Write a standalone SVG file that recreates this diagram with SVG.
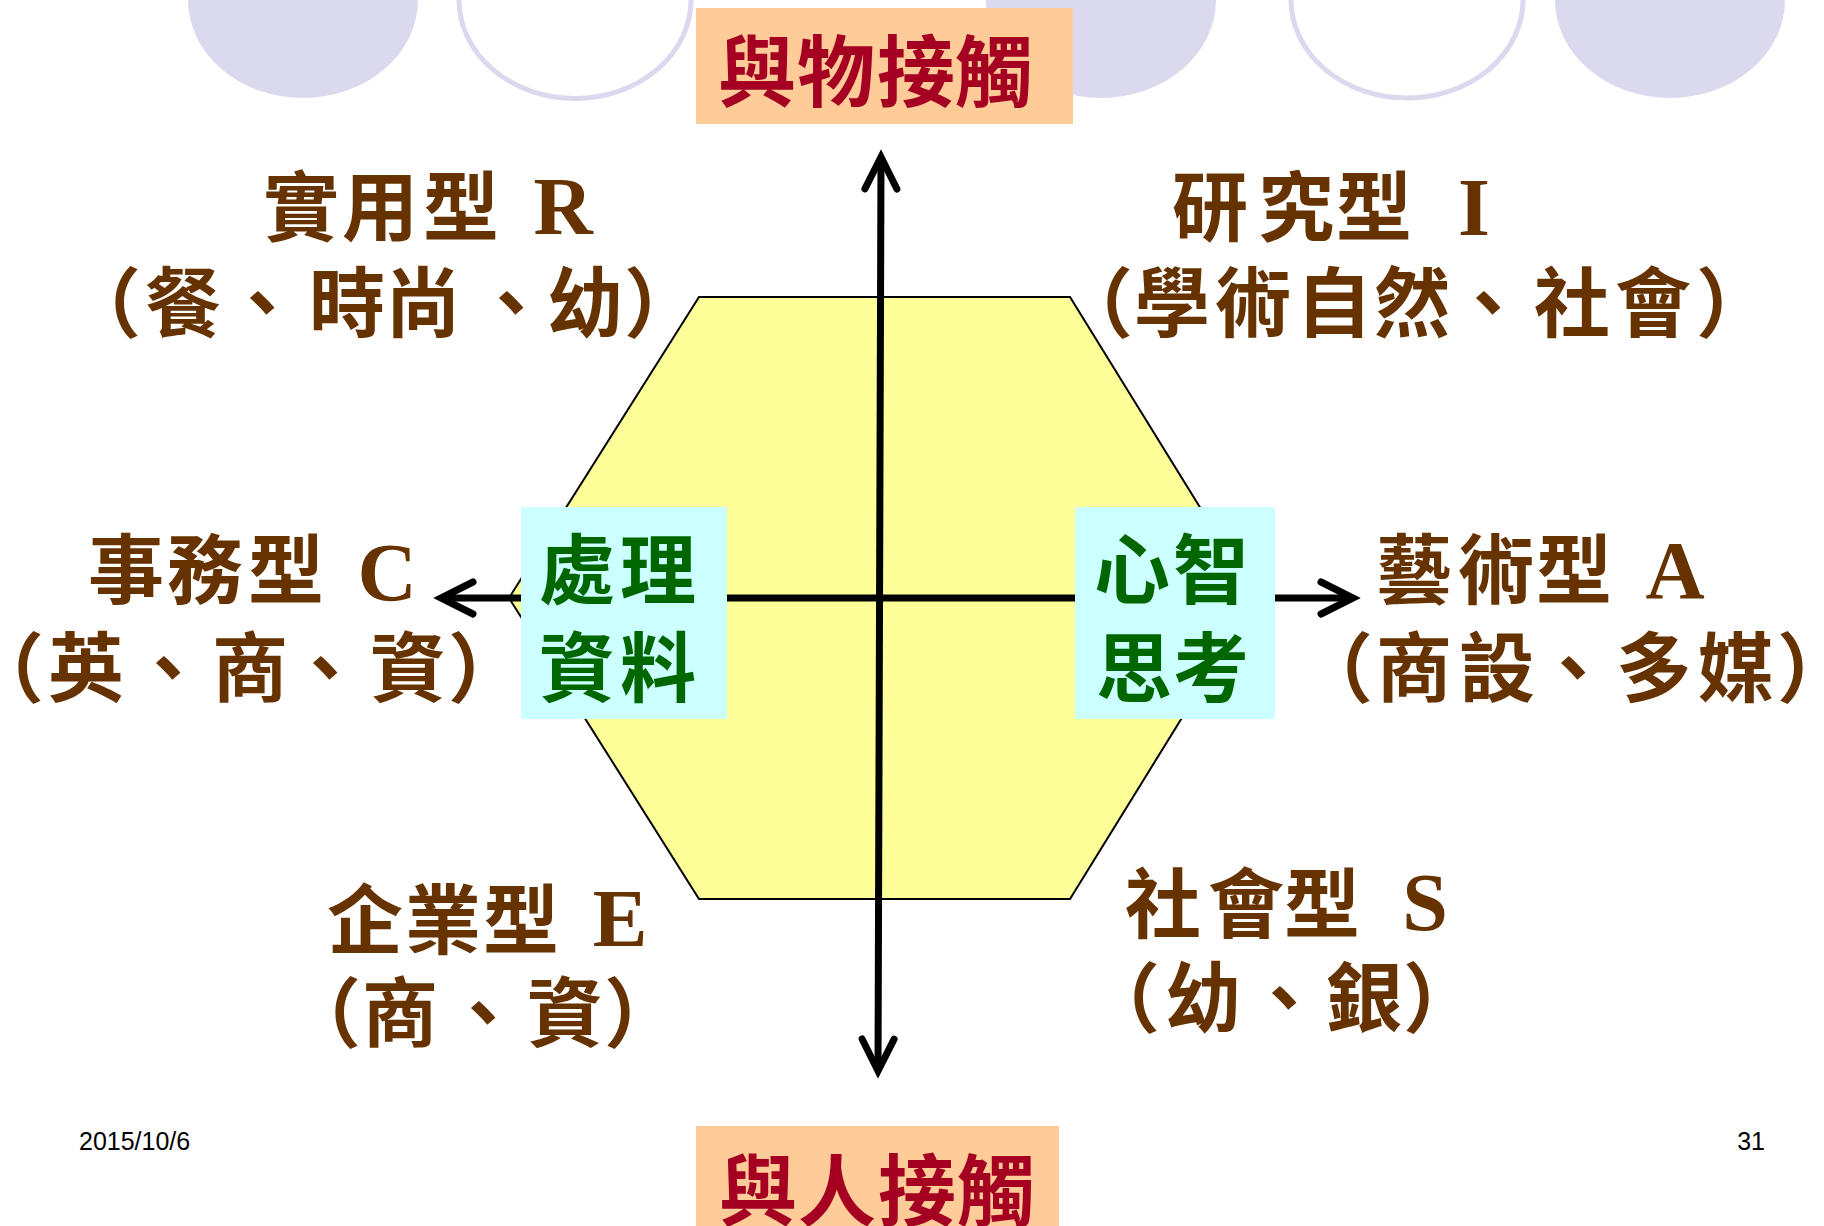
<svg xmlns="http://www.w3.org/2000/svg" width="1824" height="1226" viewBox="0 0 1824 1226">
<defs>
<style>
.bg{fill:#DBD9EE}
.ring{fill:none;stroke:#DBD9EE;stroke-width:5}
.tag{fill:#FFCC99}
.think{fill:#CCFFFF}
.hex{fill:#FFFF99;stroke:#000;stroke-width:2}
.axis{fill:none;stroke:#000;stroke-width:7}
.red{font-family:"Noto Sans CJK TC","Noto Sans CJK SC",sans-serif;font-size:78px;font-weight:700;fill:#A50021;text-anchor:middle}
.grn{font-family:"Noto Sans CJK TC","Noto Sans CJK SC",sans-serif;font-size:76px;font-weight:700;fill:#006600;text-anchor:middle}
.lab{font-family:"Noto Sans CJK TC","Noto Sans CJK SC",sans-serif;font-size:76px;font-weight:700;fill:#663300;text-anchor:middle}
.lat{font-family:"Liberation Serif",serif;font-size:82px;font-weight:700}
.foot{font-family:"Liberation Sans",Arial,sans-serif;font-size:25px;fill:#000}
</style>
<marker id="head" markerUnits="userSpaceOnUse" viewBox="-40 -30 50 60" refX="0" refY="0" markerWidth="50" markerHeight="60" orient="auto-start-reverse" overflow="visible">
<path d="M -32 -16 L 0 0 L -32 16" fill="none" stroke="#000" stroke-width="7" stroke-linecap="round" stroke-linejoin="miter"/>
</marker>
</defs>
<rect width="1824" height="1226" fill="#fff"/>
<g id="decor">
<ellipse class="bg" cx="303" cy="0" rx="115" ry="98"/>
<ellipse class="ring" cx="575" cy="0" rx="116" ry="98.5"/>
<ellipse class="bg" cx="1101" cy="0" rx="115" ry="98"/>
<ellipse class="ring" cx="1407" cy="0" rx="116" ry="98"/>
<ellipse class="bg" cx="1670" cy="0" rx="115" ry="98"/>
</g>
<g id="hexagon">
<polygon class="hex" points="699,297 1070,297 1256,598 1070,899 699,899 509,598"/>
</g>
<g id="connectors">
<path class="axis" d="M 881 157 L 878 1071" marker-start="url(#head)" marker-end="url(#head)"/>
<path class="axis" d="M 441 598 L 1353 598" marker-start="url(#head)" marker-end="url(#head)"/>
</g>
<g id="node-top">
<rect class="tag" x="696" y="8" width="377" height="116"/>
<text class="red" x="757 836 916 994" y="101">與物接觸</text>
</g>
<g id="node-bottom">
<rect class="tag" x="696" y="1126" width="363" height="100"/>
<text class="red" x="758 837 917 996" y="1220">與人接觸</text>
</g>
<g id="node-data">
<rect class="think" x="521" y="507" width="206" height="212"/>
<text class="grn" x="577 658" y="598">處理</text>
<text class="grn" x="577 658" y="696">資料</text>
</g>
<g id="node-mind">
<rect class="think" x="1075" y="507" width="200" height="212"/>
<text class="grn" x="1132 1211" y="598">心智</text>
<text class="grn" x="1134 1211" y="696">思考</text>
</g>
<g id="type-R">
<text class="lab" y="235"><tspan x="301 380 461 512">實用型 </tspan><tspan class="lat" x="563" y="234">R</tspan></text>
<text class="lab" y="331" x="103 183 262 347 423 511 585 662">（餐、時尚、幼）</text>
</g>
<g id="type-I">
<text class="lab" y="235"><tspan x="1210 1296 1374 1424">研究型 </tspan><tspan class="lat" x="1474" y="235">I</tspan></text>
<text class="lab" y="331" x="1095 1172 1253 1334 1412 1488 1572 1653 1734">（學術自然、社會）</text>
</g>
<g id="type-C">
<text class="lab" y="598"><tspan x="126 205 286 336">事務型 </tspan><tspan class="lat" x="387" y="600">C</tspan></text>
<text class="lab" y="696" x="6 86 168 250 325 408 486">（英、商、資）</text>
</g>
<g id="type-A">
<text class="lab" y="598"><tspan x="1414 1496 1574 1624">藝術型 </tspan><tspan class="lat" x="1675" y="598">A</tspan></text>
<text class="lab" y="696" x="1335 1414 1497 1573 1654 1736 1815">（商設、多媒）</text>
</g>
<g id="type-E">
<text class="lab" y="948"><tspan x="365 443 521 571">企業型 </tspan><tspan class="lat" x="620" y="946">E</tspan></text>
<text class="lab" y="1041" x="323 400 483 565 642">（商、資）</text>
</g>
<g id="type-S">
<text class="lab" y="932"><tspan x="1163 1246 1322 1374">社會型 </tspan><tspan class="lat" x="1425" y="930">S</tspan></text>
<text class="lab" y="1026" x="1122 1203 1284 1364 1441">（幼、銀）</text>
</g>
<g id="footer">
<text class="foot" x="79" y="1150">2015/10/6</text>
<text class="foot" x="1765" y="1150" text-anchor="end">31</text>
</g>
</svg>
